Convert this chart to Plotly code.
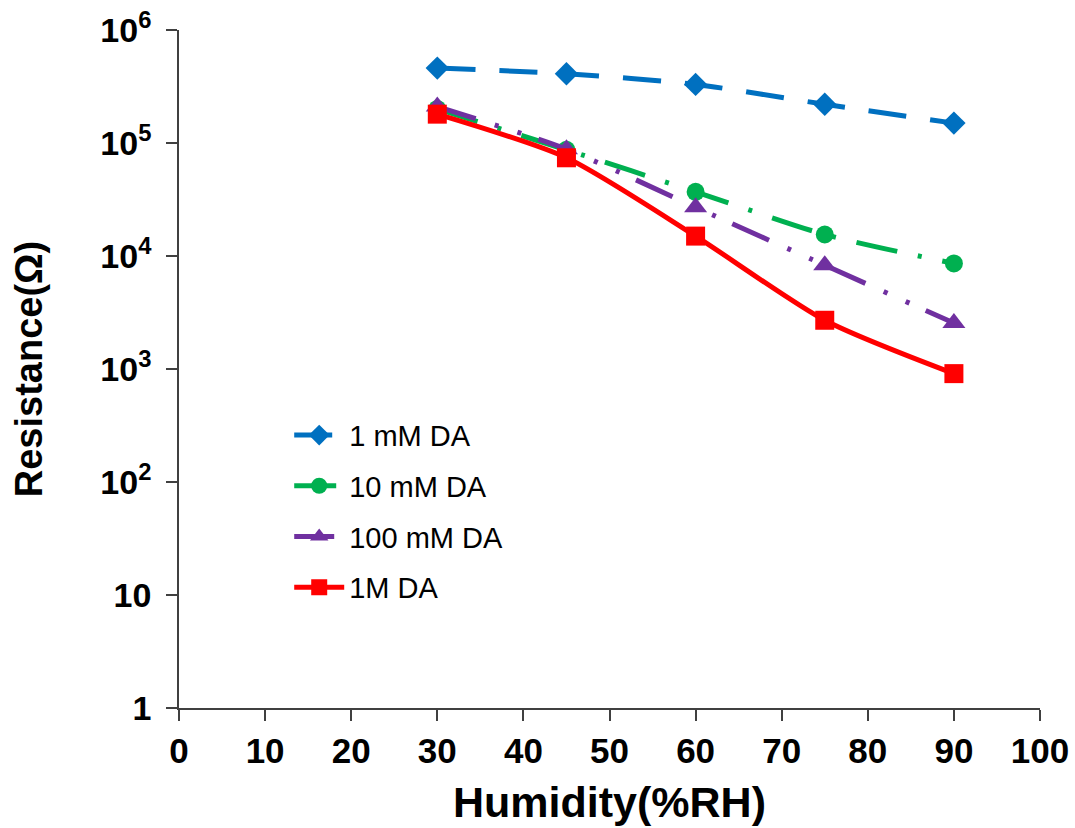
import plotly.graph_objects as go

humidity = [30, 45, 60, 75, 90]
r_1mM = [4.6e5, 4.1e5, 3.3e5, 2.2e5, 1.5e5]
r_10mM = [2.0e5, 8.7e4, 3.7e4, 1.55e4, 8.6e3]
r_100mM = [2.1e5, 8.8e4, 2.7e4, 8.3e3, 2.55e3]
r_1M = [1.8e5, 7.4e4, 1.5e4, 2.7e3, 9.1e2]

names = ["1 mM DA", "10 mM DA", "100 mM DA", "1M DA"]
colors = ["#0070C0", "#00B050", "#7030A0", "#FF0000"]
symbols = ["diamond", "circle", "triangle-up", "square"]
sizes = [18, 18, 20, 19]
dashes = ["38px,24px", "42px,21px,4px,21px", "40px,20px,4px,20px,4px,18px", "solid"]
series = [r_1mM, r_10mM, r_100mM, r_1M]

y_tickvals = [1, 10, 100, 1000, 1e4, 1e5, 1e6]
y_ticktext = ["1", "10", "10<sup>2</sup>", "10<sup>3</sup>", "10<sup>4</sup>", "10<sup>5</sup>", "10<sup>6</sup>"]
x_tickvals = [0, 10, 20, 30, 40, 50, 60, 70, 80, 90, 100]

fig = go.Figure()
for i in range(4):
    fig.add_trace(go.Scatter(
        x=humidity, y=series[i], name=names[i], mode="lines+markers",
        legendgroup=names[i],
        line=dict(color=colors[i], width=5, dash=dashes[i], shape="spline", smoothing=0.7),
        marker=dict(symbol=symbols[i], size=sizes[i], color=colors[i], line=dict(width=0)),
    ))

font_family = "Liberation Sans, Arial, sans-serif"
fig.update_layout(
    width=1075, height=828,
    margin=dict(l=179, r=35, t=30, b=120),
    paper_bgcolor="white", plot_bgcolor="white",
    font=dict(family=font_family, color="black"),
    showlegend=True,
    legend=dict(
        x=0.128, y=0.44, xanchor="left", yanchor="top",
        font=dict(size=29, family=font_family, color="black"),
        traceorder="grouped", tracegroupgap=10,
        itemwidth=50, bgcolor="rgba(0,0,0,0)",
    ),
    xaxis=dict(
        range=[0, 100], tickvals=x_tickvals, ticks="outside", ticklen=11, tickwidth=1.5,
        tickcolor="#404040", showline=True, linecolor="#404040", linewidth=1.5,
        showgrid=False, zeroline=False, automargin=False,
        tickfont=dict(size=35, family=font_family, color="black", weight="bold"),
        title=dict(text="<b>Humidity(%RH)</b>", font=dict(size=43, family=font_family, color="black"), standoff=18),
    ),
    yaxis=dict(
        type="log", range=[0, 6], tickvals=y_tickvals, ticktext=y_ticktext,
        ticks="outside", ticklen=11, tickwidth=1.5, tickcolor="#404040",
        showline=True, linecolor="#404040", linewidth=1.5, showgrid=False, zeroline=False,
        automargin=False,
        tickfont=dict(size=34, family=font_family, color="black", weight="bold"),
        ticklabelstandoff=8,
        title=dict(text="<b>Resistance(Ω)</b>", font=dict(size=38, family=font_family, color="black"), standoff=46),
    ),
)

fig.write_html("out.html")
